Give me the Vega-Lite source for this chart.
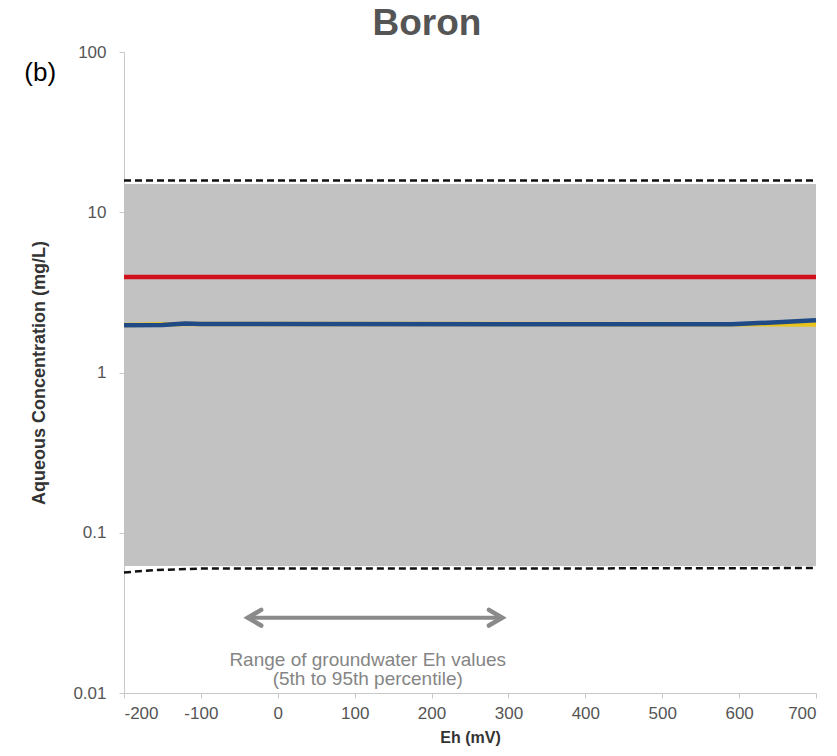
{
  "$schema": "https://vega.github.io/schema/vega-lite/v6.json",
  "autosize": "none",
  "width": 692,
  "height": 641,
  "padding": {"left": 124, "top": 52, "right": 21, "bottom": 63},
  "background": "white",
  "config": {
    "font": "Liberation Sans",
    "view": {"stroke": null},
    "axis": {"grid": false, "domainColor": "#c8c8c8", "tickColor": "#c8c8c8", "labelColor": "#555555", "labelFontSize": 17, "titleColor": "#333333", "titleFontSize": 17, "titleFontWeight": "bold", "labelFont": "Liberation Sans", "titleFont": "Liberation Sans"}
  },
  "title": {"text": "Boron", "fontSize": 37, "fontWeight": "bold", "color": "#555555", "dx": -43, "offset": 0, "font": "Liberation Sans"},
  "datasets": {
    "band": [{"eh": -200, "lo": 0.062, "hi": 15}, {"eh": 700, "lo": 0.062, "hi": 15}],
    "lines": [
      {"series": "upper", "eh": -200, "c": 15.8}, {"series": "upper", "eh": 700, "c": 15.8},
      {"series": "lower", "eh": -200, "c": 0.0565}, {"series": "lower", "eh": -160, "c": 0.0585}, {"series": "lower", "eh": -100, "c": 0.0598}, {"series": "lower", "eh": 300, "c": 0.0598}, {"series": "lower", "eh": 700, "c": 0.0602},
      {"series": "red", "eh": -200, "c": 3.95}, {"series": "red", "eh": 700, "c": 3.95},
      {"series": "yellow", "eh": -200, "c": 1.98}, {"series": "yellow", "eh": -120, "c": 2.01}, {"series": "yellow", "eh": 600, "c": 2.0}, {"series": "yellow", "eh": 700, "c": 1.99},
      {"series": "blue", "eh": -200, "c": 1.97}, {"series": "blue", "eh": -150, "c": 1.98}, {"series": "blue", "eh": -120, "c": 2.02}, {"series": "blue", "eh": -100, "c": 2.01}, {"series": "blue", "eh": 300, "c": 2.0}, {"series": "blue", "eh": 590, "c": 2.0}, {"series": "blue", "eh": 650, "c": 2.06}, {"series": "blue", "eh": 700, "c": 2.12}
    ],
    "arrow": [{"eh": -39, "c": 0.0295, "dir": "left"}, {"eh": 292, "c": 0.0295, "dir": "right"}],
    "notes": [
      {"eh": 117, "c": 0.0161, "t": "Range of groundwater Eh values"},
      {"eh": 117, "c": 0.0122, "t": "(5th to 95th percentile)"}
    ],
    "tag": [{"eh": -309, "c": 74, "t": "(b)"}]
  },
  "layer": [
    {
      "data": {"name": "band"},
      "mark": {"type": "area", "color": "#c2c2c2"},
      "encoding": {
        "x": {"field": "eh", "type": "quantitative", "scale": {"domain": [-200, 700], "nice": false}, "axis": {"title": "Eh (mV)", "titleFontSize": 16, "values": [-200, -100, 0, 100, 200, 300, 400, 500, 600, 700], "labelExpr": "datum.value + ''", "tickSize": 5, "labelPadding": 7, "titlePadding": 8}},
        "y": {"field": "lo", "type": "quantitative", "scale": {"type": "log", "domain": [0.01, 100], "nice": false}, "axis": {"title": "Aqueous Concentration (mg/L)", "titleFontSize": 18, "values": [0.01, 0.1, 1, 10, 100], "labelExpr": "datum.value >= 1 ? format(datum.value, 'd') : format(datum.value, '.2~f')", "tickSize": 5, "labelPadding": 13, "titlePadding": 24}},
        "y2": {"field": "hi"}
      }
    },
    {
      "data": {"name": "lines"},
      "transform": [{"filter": "datum.series === 'upper' || datum.series === 'lower'"}],
      "mark": {"type": "line", "color": "#111111", "strokeWidth": 2.5, "strokeDash": [7, 4]},
      "encoding": {
        "x": {"field": "eh", "type": "quantitative"},
        "y": {"field": "c", "type": "quantitative"},
        "detail": {"field": "series"}
      }
    },
    {
      "data": {"name": "lines"},
      "transform": [{"filter": "datum.series === 'red' || datum.series === 'yellow' || datum.series === 'blue'"}],
      "mark": {"type": "line", "strokeWidth": 4.5},
      "encoding": {
        "x": {"field": "eh", "type": "quantitative"},
        "y": {"field": "c", "type": "quantitative"},
        "color": {"field": "series", "type": "nominal", "scale": {"domain": ["red", "yellow", "blue"], "range": ["#d0111b", "#e8c21a", "#1f4a85"]}, "legend": null},
        "order": {"field": "series", "sort": "descending"}
      }
    },
    {
      "data": {"name": "arrow"},
      "mark": {"type": "line", "color": "#8a8a8a", "strokeWidth": 4},
      "encoding": {
        "x": {"field": "eh", "type": "quantitative"},
        "y": {"field": "c", "type": "quantitative"}
      }
    },
    {
      "data": {"name": "arrow"},
      "mark": {"type": "point", "filled": false, "stroke": "#8a8a8a", "strokeWidth": 4.5, "size": 500, "strokeCap": "round", "strokeJoin": "miter", "opacity": 1},
      "encoding": {
        "x": {"field": "eh", "type": "quantitative"},
        "y": {"field": "c", "type": "quantitative"},
        "shape": {"field": "dir", "type": "nominal", "scale": {"domain": ["left", "right"], "range": ["M 1.2 -0.7 L 0 0 L 1.2 0.7", "M -1.2 -0.7 L 0 0 L -1.2 0.7"]}, "legend": null}
      }
    },
    {
      "data": {"name": "notes"},
      "mark": {"type": "text", "fontSize": 19, "color": "#858585", "align": "center", "baseline": "middle"},
      "encoding": {
        "x": {"field": "eh", "type": "quantitative"},
        "y": {"field": "c", "type": "quantitative"},
        "text": {"field": "t"}
      }
    },
    {
      "data": {"name": "tag"},
      "mark": {"type": "text", "fontSize": 26, "color": "#000000", "align": "center", "baseline": "middle", "clip": false},
      "encoding": {
        "x": {"field": "eh", "type": "quantitative"},
        "y": {"field": "c", "type": "quantitative"},
        "text": {"field": "t"}
      }
    }
  ]
}
